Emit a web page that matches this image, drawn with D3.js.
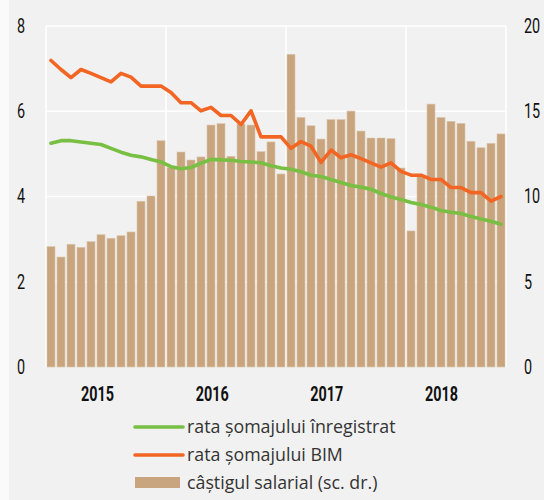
<!DOCTYPE html>
<html>
<head>
<meta charset="utf-8">
<script src="https://cdn.jsdelivr.net/npm/d3@7"></script>
<style>
  html, body { margin: 0; padding: 0; background: #fafafa; }
  svg { display: block; }
</style>
</head>
<body>
<div id="chart"></div>
<script>
// date lunare, ian. 2015 - oct. 2018
const months = d3.timeMonth.range(new Date(2015, 0, 1), new Date(2018, 10, 1));
const years = [2015, 2016, 2017, 2018];

// rata somajului inregistrat (%)
const rataInregistrat = [
  5.25, 5.31, 5.31, 5.28, 5.25, 5.22, 5.13, 5.04, 4.97, 4.93, 4.87, 4.81,
  4.70, 4.65, 4.68, 4.78, 4.87, 4.86, 4.85, 4.82, 4.81, 4.79, 4.72, 4.67,
  4.64, 4.58, 4.50, 4.47, 4.40, 4.33, 4.26, 4.22, 4.17, 4.07, 3.99, 3.93,
  3.86, 3.81, 3.75, 3.67, 3.63, 3.60, 3.53, 3.47, 3.42, 3.35
];

// rata somajului BIM (%)
const rataBIM = [
  7.19, 6.98, 6.79, 6.98, 6.89, 6.79, 6.69, 6.89, 6.80, 6.59, 6.59, 6.59,
  6.44, 6.20, 6.20, 6.01, 6.09, 5.90, 5.90, 5.69, 6.01, 5.40, 5.40, 5.40,
  5.13, 5.29, 5.18, 4.80, 5.09, 4.91, 4.98, 4.89, 4.79, 4.69, 4.79, 4.59,
  4.50, 4.50, 4.40, 4.40, 4.21, 4.21, 4.09, 4.09, 3.89, 4.00
];

// castigul salarial (%, scala dreapta)
const castigSalarial = [
  7.06, 6.45, 7.20, 7.02, 7.35, 7.76, 7.55, 7.70, 7.92, 9.72, 10.03, 13.27,
  11.69, 12.61, 12.14, 12.32, 14.19, 14.27, 12.36, 14.25, 14.19, 12.63, 13.20, 11.32,
  18.34, 14.64, 14.15, 13.37, 14.51, 14.51, 15.01, 13.84, 13.43, 13.43, 13.39, 11.67,
  7.98, 11.22, 15.42, 14.64, 14.41, 14.29, 13.24, 12.86, 13.12, 13.67
];

const leftTicks = [0, 2, 4, 6, 8];
const rightTicks = [0, 5, 10, 15, 20];

const legendItems = [
  { label: 'rata șomajului înregistrat', type: 'line', color: '#78bf43' },
  { label: 'rata șomajului BIM', type: 'line', color: '#f26522' },
  { label: 'câștigul salarial (sc. dr.)', type: 'bar', color: '#c8a57f' }
];

const width = 544;
const height = 500;
const margin = { top: 26, right: 38, bottom: 133, left: 46 };

const svg = d3.select('#chart')
  .append('svg')
  .attr('width', width)
  .attr('height', height);

// fundal gri
svg.append('rect')
  .attr('x', 9)
  .attr('y', 0)
  .attr('width', width - 9)
  .attr('height', height)
  .attr('fill', '#f1f1f1');

const x = d3.scaleBand()
  .domain(months)
  .range([margin.left, width - margin.right])
  .paddingInner(0.2)
  .paddingOuter(0.1);

const yL = d3.scaleLinear().domain([0, 8]).range([height - margin.bottom, margin.top]);
const yR = d3.scaleLinear().domain([0, 20]).range([height - margin.bottom, margin.top]);

const gap = (x.step() - x.bandwidth()) / 2;
const cx = d => x(d) + x.bandwidth() / 2;

// grila
const grid = svg.append('g').attr('stroke', '#ffffff').attr('stroke-width', 1.6);

grid.selectAll('line.h')
  .data(leftTicks.filter(d => d > 0))
  .join('line')
  .attr('class', 'h')
  .attr('x1', margin.left)
  .attr('x2', width - margin.right)
  .attr('y1', d => yL(d))
  .attr('y2', d => yL(d));

grid.selectAll('line.v')
  .data(years)
  .join('line')
  .attr('class', 'v')
  .attr('x1', d => x(months.find(m => m.getFullYear() === d)) - gap)
  .attr('x2', d => x(months.find(m => m.getFullYear() === d)) - gap)
  .attr('y1', margin.top)
  .attr('y2', height - margin.bottom);

grid.append('line')
  .attr('x1', width - margin.right)
  .attr('x2', width - margin.right)
  .attr('y1', margin.top)
  .attr('y2', height - margin.bottom);

// bare
svg.append('g')
  .selectAll('rect')
  .data(castigSalarial)
  .join('rect')
  .attr('x', (d, i) => x(months[i]))
  .attr('y', d => yR(d))
  .attr('width', x.bandwidth())
  .attr('height', d => yR(0) - yR(d))
  .attr('fill', '#c8a57f')
  .attr('stroke', '#dcc6ac')
  .attr('stroke-width', 0.6);

// linii
const line = d3.line()
  .x((d, i) => cx(months[i]))
  .y(d => yL(d));

svg.append('path')
  .datum(rataInregistrat)
  .attr('d', line)
  .attr('fill', 'none')
  .attr('stroke', '#78bf43')
  .attr('stroke-width', 3.6)
  .attr('stroke-linejoin', 'round')
  .attr('stroke-linecap', 'round');

svg.append('path')
  .datum(rataBIM)
  .attr('d', line)
  .attr('fill', 'none')
  .attr('stroke', '#f26522')
  .attr('stroke-width', 3.6)
  .attr('stroke-linejoin', 'round')
  .attr('stroke-linecap', 'round');

// axe - cifre condensate (scalare pe orizontala)
const squeeze = 0.72;

function condense(sel) {
  sel.style('font-family', 'Roboto, sans-serif')
    .style('font-size', '20px')
    .style('fill', '#111')
    .attr('x', function () { return (+this.getAttribute('x') || 0) / squeeze; })
    .attr('transform', `scale(${squeeze},1)`);
}

const axL = svg.append('g')
  .attr('transform', `translate(${margin.left},0)`)
  .call(d3.axisLeft(yL).tickValues(leftTicks).tickSize(0).tickPadding(21));

const axR = svg.append('g')
  .attr('transform', `translate(${width - margin.right},0)`)
  .call(d3.axisRight(yR).tickValues(rightTicks).tickSize(0).tickPadding(18));

[axL, axR].forEach(ax => {
  ax.select('.domain').remove();
  ax.selectAll('text').call(condense);
});

// etichete ani
const xYear = d3.scalePoint().domain(years).range([97, 441]);

const axB = svg.append('g')
  .attr('transform', `translate(0,${height - margin.bottom})`)
  .call(d3.axisBottom(xYear).tickSize(0).tickPadding(20));

axB.select('.domain').remove();
axB.selectAll('text')
  .call(condense)
  .style('font-weight', 'bold');

// legenda
const legend = svg.append('g')
  .selectAll('g')
  .data(legendItems)
  .join('g')
  .attr('transform', (d, i) => `translate(135,${427 + i * 28})`);

legend.filter(d => d.type === 'line')
  .append('line')
  .attr('x1', 0)
  .attr('x2', 48)
  .attr('stroke', d => d.color)
  .attr('stroke-width', 3.6)
  .attr('stroke-linecap', 'round');

legend.filter(d => d.type === 'bar')
  .append('rect')
  .attr('x', 0)
  .attr('y', -6)
  .attr('width', 45)
  .attr('height', 11)
  .attr('fill', d => d.color);

legend.append('text')
  .attr('x', 52)
  .attr('dy', '0.35em')
  .text(d => d.label)
  .style('font-family', 'Open Sans')
  .style('font-size', '17.8px')
  .style('fill', '#333');
</script>
</body>
</html>
